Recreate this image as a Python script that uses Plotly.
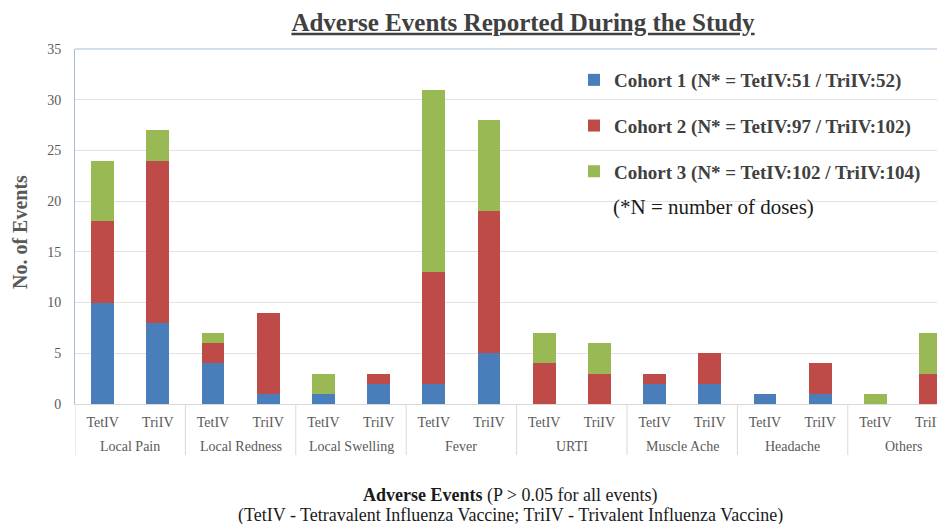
import plotly.graph_objects as go

events = ["Local Pain", "Local Redness", "Local Swelling", "Fever", "URTI",
          "Muscle Ache", "Headache", "Others"]
vaccines = ["TetIV", "TriIV"]

# values ordered: for each event -> TetIV, TriIV
cohort1 = [10, 8, 4, 1, 1, 2, 2, 5, 0, 0, 2, 2, 1, 1, 0, 0]
cohort2 = [8, 16, 2, 8, 0, 1, 11, 14, 4, 3, 1, 3, 0, 3, 0, 3]
cohort3 = [6, 3, 1, 0, 2, 0, 18, 9, 3, 3, 0, 0, 0, 0, 1, 4]

series_names = ["Cohort 1 (N* = TetIV:51 / TriIV:52)",
                "Cohort 2 (N* = TetIV:97 / TriIV:102)",
                "Cohort 3 (N* = TetIV:102 / TriIV:104)"]
colors = ["#4a7ebb", "#be4b48", "#98b954"]

x_subs = [v for _ in events for v in vaccines]
x_pos = list(range(len(x_subs)))          # category slot index
nv = len(vaccines)

SERIF = "Liberation Serif, Times New Roman, serif"
GRAY = "#595959"
DIV = "#d9d9d9"

# page body adds an 8px offset; plot area on screen: x 75..945, y 49..404
OFF = 8
PL, PR, PT, PB = 75, 945, 49, 404
PW, PH = PR - PL, PB - PT
SLOT = 55.2  # px per category slot in the reference


def px(sx):
    return (sx - PL) / PW


def py(sy):
    return (PB - sy) / PH


fig = go.Figure()
for i, (name, vals, col) in enumerate(zip(series_names, [cohort1, cohort2, cohort3], colors)):
    fig.add_trace(go.Bar(
        x=x_pos, y=vals, name=name,
        customdata=[[e, v] for e in events for v in vaccines],
        hovertemplate="%{customdata[0]} / %{customdata[1]}: %{y}<extra>" + name + "</extra>",
        marker=dict(color=col, line=dict(width=0)),
        legendgroup=f"g{i}",
    ))

fig.update_layout(
    barmode="stack",
    bargap=0.59,
    width=945, height=524,
    margin=dict(l=PL - OFF, r=945 - (PR - OFF), t=PT - OFF, b=524 - (PB - OFF)),
    plot_bgcolor="white", paper_bgcolor="white",
    font=dict(family=SERIF, color=GRAY),
    title=dict(
        text="<b>Adverse Events Reported During the Study</b>",
        font=dict(family=SERIF, size=25, color="#404040", lineposition="under"),
        x=(523 - OFF) / 945, xanchor="center", xref="container",
        y=1 - (22 - OFF) / 524, yanchor="middle", yref="container",
    ),
    legend=dict(
        x=px(574), xanchor="left",
        y=py(61), yanchor="top",
        bgcolor="rgba(0,0,0,0)",
        font=dict(family=SERIF, size=19, color="#404040", weight="bold"),
        tracegroupgap=18,
        itemwidth=30,
    ),
    showlegend=True,
)

fig.update_xaxes(
    range=[-0.5, PW / SLOT - 0.5],
    tickmode="array", tickvals=x_pos, ticktext=x_subs,
    tickfont=dict(family=SERIF, size=14, color=GRAY),
    showgrid=False, zeroline=False,
    showline=True, linecolor=DIV, linewidth=1,
    ticks="", ticklabelstandoff=5,
)
fig.update_yaxes(
    range=[0, 35], dtick=5,
    tickfont=dict(family=SERIF, size=14, color=GRAY),
    showgrid=True, gridcolor="#e3e3e3", gridwidth=1,
    showline=True, linecolor="#a9bcd6", linewidth=1,
    ticks="", ticklabelstandoff=10,
    zeroline=False,
)

# top border of plot area
fig.add_shape(type="line", xref="paper", yref="paper", x0=0, x1=1, y0=1, y1=1,
              line=dict(color="#a9bcd6", width=1))

# group labels and dividers below the category axis
for k, ev in enumerate(events):
    fig.add_annotation(
        text=ev, xref="x", yref="paper", x=k * nv + (nv - 1) / 2, y=py(446),
        xanchor="center", yanchor="middle", showarrow=False,
        font=dict(family=SERIF, size=14, color=GRAY),
    )
for k in range(len(events) + 1):
    fig.add_shape(type="line", xref="x", yref="paper",
                  x0=k * nv - 0.5, x1=k * nv - 0.5, y0=0, y1=py(455),
                  line=dict(color=DIV, width=1), layer="below")

fig.add_annotation(
    text="<b>No. of Events</b>", textangle=-90,
    xref="paper", yref="paper", x=px(20), y=py(232),
    xanchor="center", yanchor="middle", showarrow=False,
    font=dict(family=SERIF, size=20, color=GRAY),
)
fig.add_annotation(
    text="(*N = number of doses)",
    xref="paper", yref="paper", x=px(611), y=py(207),
    xanchor="left", yanchor="middle", showarrow=False,
    font=dict(family=SERIF, size=21, color="#1a1a1a"),
)
fig.add_annotation(
    text="<b>Adverse Events</b> (P > 0.05 for all events)",
    xref="paper", yref="paper", x=px(510), y=py(495),
    xanchor="center", yanchor="middle", showarrow=False,
    font=dict(family=SERIF, size=18, color="#1a1a1a"),
)
fig.add_annotation(
    text="(TetIV - Tetravalent Influenza Vaccine; TriIV - Trivalent Influenza Vaccine)",
    xref="paper", yref="paper", x=px(510), y=py(515),
    xanchor="center", yanchor="middle", showarrow=False,
    font=dict(family=SERIF, size=18, color="#1a1a1a"),
)

fig.write_html("out.html")
